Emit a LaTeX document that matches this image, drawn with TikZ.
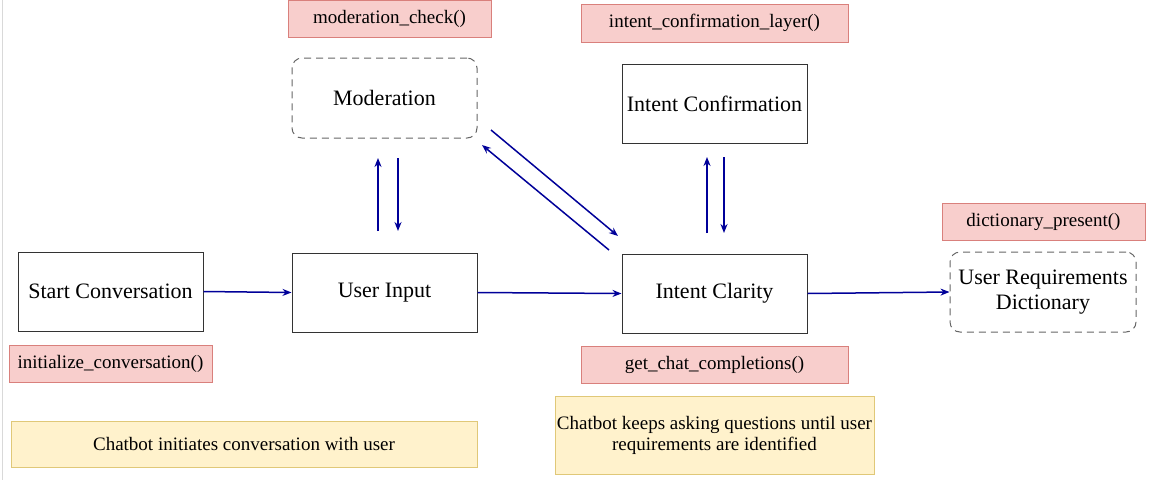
\documentclass[tikz,border=0pt]{standalone}
\usepackage{fontspec}
\setmainfont{Liberation Serif}
\usetikzlibrary{arrows.meta}
\definecolor{arrowblue}{RGB}{0,0,153}
\definecolor{pinkfill}{HTML}{F8CECC}
\definecolor{pinkdraw}{HTML}{D9807C}
\definecolor{yelfill}{HTML}{FFF2CC}
\definecolor{yeldraw}{HTML}{E0C878}
\tikzset{
  procbox/.style={draw=black!80, line width=1pt, minimum width=185pt, minimum height=79pt, inner sep=0pt, align=center, font=\fontsize{22}{25}\selectfont},
  dashbox/.style={draw=black!60, line width=1pt, dash pattern=on 7pt off 5pt, rounded corners=10pt, minimum width=185pt, minimum height=80pt, inner sep=0pt, align=center, font=\fontsize{22}{25}\selectfont},
  funcbox/.style={draw=pinkdraw, fill=pinkfill, line width=1pt, minimum height=37pt, inner sep=0pt, align=center, font=\fontsize{19}{21}\selectfont},
  notebox/.style={draw=yeldraw, fill=yelfill, line width=1pt, inner sep=0pt, align=center, font=\fontsize{19}{21}\selectfont},
  flow/.style={draw=arrowblue, line width=1.5pt, -{Stealth[length=9pt,width=7pt]}}
}
\begin{document}
\begin{tikzpicture}[x=1pt,y=-1pt]
\useasboundingbox (0,0) rectangle (1156,480);
\fill[white] (0,0) rectangle (1156,480);
\draw[black!15, line width=1.2pt] (2.5,0) -- (2.5,480);

% main process boxes
\node[procbox] (start) at (110.5,291.5) {Start Conversation};
\node[procbox] (input) at (384.5,292.5) {User Input};
\node[procbox] (clarity) at (714.5,293.5) {Intent Clarity};
\node[procbox] (confirm) at (714.5,103.5) {Intent Confirmation};
\node[dashbox] (moder) at (384.5,98) {Moderation};
\node[dashbox, minimum width=186pt] (dict) at (1043,292) {User Requirements\\Dictionary};

% function labels
\node[funcbox, minimum width=203pt] (fmod) at (389.5,18.5) {moderation\_check()};
\node[funcbox, minimum width=267pt, minimum height=38pt] (fconf) at (714.5,23) {intent\_confirmation\_layer()};
\node[funcbox, minimum width=267pt] (fcomp) at (714.5,364.5) {get\_chat\_completions()};
\node[funcbox, minimum width=203pt] (fdict) at (1043.5,221.5) {dictionary\_present()};
\node[funcbox, minimum width=203pt] (finit) at (110.5,363.5) {initialize\_conversation()};

% notes
\node[notebox, minimum width=466pt, minimum height=46pt] (note1) at (244,444) {Chatbot initiates conversation with user};
\node[notebox, minimum width=319pt, minimum height=78pt] (note2) at (714.5,435) {Chatbot keeps asking questions until user\\requirements are identified};

% horizontal flow
\draw[flow] (start.east) -- (input.west);
\draw[flow] (input.east) -- (clarity.west);
\draw[flow] (clarity.east) -- (dict.west);

% moderation pair
\coordinate (mupA) at (378,231);
\coordinate (mupB) at (378,158);
\coordinate (mdnA) at (398,158);
\coordinate (mdnB) at (398,231);
\draw[flow] (mupA) -- (mupB);
\draw[flow] (mdnA) -- (mdnB);

% intent confirmation pair
\coordinate (cupA) at (707,233);
\coordinate (cupB) at (707,157);
\coordinate (cdnA) at (724,157);
\coordinate (cdnB) at (724,233);
\draw[flow] (cupA) -- (cupB);
\draw[flow] (cdnA) -- (cdnB);

% diagonal pair
\coordinate (dA) at (491,130);
\coordinate (dB) at (618,236);
\coordinate (uA) at (609,250);
\coordinate (uB) at (482,145);
\draw[flow] (dA) -- (dB);
\draw[flow] (uA) -- (uB);
\end{tikzpicture}
\end{document}
